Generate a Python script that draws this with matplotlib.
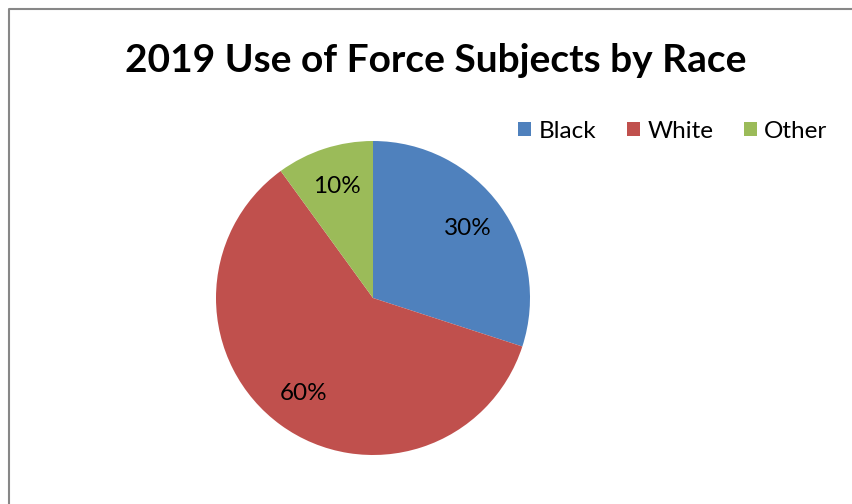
import matplotlib
matplotlib.use("Agg")
import matplotlib.pyplot as plt
from matplotlib.lines import Line2D
from matplotlib.patches import Patch

races = ["Black", "White", "Other"]
shares = [30, 60, 10]
colors = ["#4F81BD", "#C0504D", "#9BBB59"]
title = "2019 Use of Force Subjects by Race"

plt.rcParams["font.family"] = ["Lato", "DejaVu Sans"]

fig = plt.figure(figsize=(8.52, 5.04), dpi=100)
W, H = 852, 504

# chart frame (grey border, left + top visible)
fig.add_artist(Line2D([8.5 / W, 8.5 / W, 1.0], [0.0, 1 - 9 / H, 1 - 9 / H],
                      transform=fig.transFigure, color="#878787", linewidth=1.5))

ax = fig.add_axes([216 / W, 49 / H, 314 / W, 314 / H])
ax.pie(shares, colors=colors, startangle=90, counterclock=False,
       autopct="%1.0f%%", pctdistance=0.75,
       textprops={"fontsize": 17.5, "color": "black"})
ax.set_xlim(-1, 1)
ax.set_ylim(-1, 1)
ax.set_aspect("equal")

fig.text(436 / W, 1 - 61 / H, title, ha="center", va="center",
         fontsize=28, fontweight="bold")

handles = [Patch(facecolor=c, edgecolor="none") for c in colors]
fig.legend(handles, races, loc="center left", bbox_to_anchor=(518 / W, 1 - 131 / H),
           ncol=3, frameon=False, fontsize=17.5, handlelength=0.55, handleheight=0.55,
           handletextpad=0.3, columnspacing=1.25, borderaxespad=0, borderpad=0)

fig.savefig("out.png", dpi=100)
